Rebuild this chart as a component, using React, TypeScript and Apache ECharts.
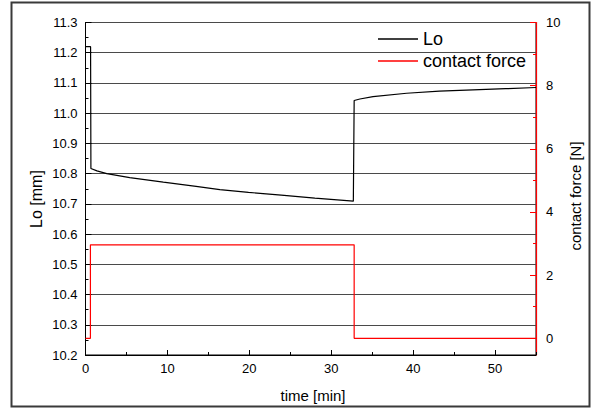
import React, { useEffect, useRef } from "react";
import * as echarts from "echarts";

const loTime = [0, 0.62, 0.66, 1.4, 2.6, 5.4, 9.5, 13.5, 16.4, 19.9, 23.9, 28, 32.7, 32.8, 33.5, 35.1, 39.2, 43.2, 47.3, 51.3, 55];
const loValues = [11.22, 11.22, 10.817, 10.809, 10.8, 10.787, 10.772, 10.758, 10.747, 10.738, 10.729, 10.719, 10.709, 11.042, 11.047, 11.055, 11.066, 11.073, 11.077, 11.081, 11.085];
const forceTime = [0, 0.6, 0.6, 32.8, 32.8, 55];
const forceValues = [0, 0, 2.96, 2.96, 0, 0];

const FONT = "'Liberation Sans', Arial, sans-serif";

export default function App() {
  const ref = useRef<HTMLDivElement>(null);
  useEffect(() => {
    if (!ref.current) return;
    const chart = echarts.init(ref.current, null, { renderer: "svg" });
    const gridLeft = 85.5;
    const gridRight = 61;
    chart.setOption({
      animation: false,
      backgroundColor: "#fff",
      textStyle: { fontFamily: FONT },
      grid: [
        { left: gridLeft, right: gridRight, top: 22.5, bottom: 55, show: true, borderColor: "#000", borderWidth: 1, backgroundColor: "transparent" },
        { left: gridLeft, right: gridRight, top: 22.5, bottom: 71.7, show: false },
      ],
      legend: {
        orient: "vertical",
        left: 378,
        top: 30,
        padding: 0,
        icon: "rect",
        itemWidth: 40,
        itemHeight: 1.3,
        itemGap: 4,
        textStyle: { fontFamily: FONT, fontSize: 18, color: "#000", lineHeight: 18 },
        data: ["Lo", "contact force"],
      },
      xAxis: [
        {
          gridIndex: 0, type: "value", min: 0, max: 55, interval: 10, position: "bottom",
          axisLine: { show: true, onZero: false, lineStyle: { color: "#000", width: 1 } },
          axisTick: { show: true, inside: true, length: 5, lineStyle: { color: "#000" } },
          axisLabel: { show: true, color: "#000", fontSize: 13, margin: 7, fontFamily: FONT, showMaxLabel: false },
          splitLine: { show: false },
        },
        {
          gridIndex: 0, type: "value", min: 0, max: 55, interval: 5, position: "bottom",
          axisLine: { show: false, onZero: false },
          axisTick: { show: true, inside: true, length: 3, lineStyle: { color: "#000" } },
          axisLabel: { show: false },
          splitLine: { show: false },
        },
        { gridIndex: 1, type: "value", min: 0, max: 55, show: false, axisLine: { onZero: false } },
      ],
      yAxis: [
        {
          gridIndex: 0, type: "value", min: 10.2, max: 11.3, interval: 0.1, position: "left",
          axisLine: { show: true, onZero: false, lineStyle: { color: "#000", width: 1 } },
          axisTick: { show: true, inside: true, length: 6, lineStyle: { color: "#000" } },
          minorTick: { show: true, splitNumber: 2, length: 3, lineStyle: { color: "#000" } },
          axisLabel: { color: "#000", fontSize: 13, margin: 8, fontFamily: FONT, formatter: (v: number) => v.toFixed(1) },
          splitLine: { show: true, lineStyle: { color: "#4a4a4a", width: 1 } },
        },
        {
          gridIndex: 0, type: "value", min: 10.2, max: 11.3, position: "right",
          axisLine: { show: true, onZero: false, lineStyle: { color: "#ff0000", width: 1.2 } },
          axisTick: { show: false },
          axisLabel: { show: false },
          splitLine: { show: false },
        },
        {
          gridIndex: 1, type: "value", min: 0, max: 10, interval: 2, position: "right",
          axisLine: { show: false, onZero: false, lineStyle: { color: "#ff0000" } },
          axisTick: { show: true, inside: true, length: 6, lineStyle: { color: "#ff0000" } },
          minorTick: { show: true, splitNumber: 2, length: 3, lineStyle: { color: "#ff0000" } },
          axisLabel: { color: "#000", fontSize: 13, margin: 10, fontFamily: FONT },
          splitLine: { show: false },
        },
      ],
      series: [
        {
          name: "Lo", type: "line", xAxisIndex: 0, yAxisIndex: 0, symbol: "none",
          lineStyle: { color: "#000", width: 1.2 }, itemStyle: { color: "#000" },
          data: loTime.map((t, i) => [t, loValues[i]]),
        },
        {
          name: "contact force", type: "line", xAxisIndex: 2, yAxisIndex: 2, symbol: "none",
          lineStyle: { color: "#ff0000", width: 1.2 }, itemStyle: { color: "#ff0000" },
          data: forceTime.map((t, i) => [t, forceValues[i]]),
        },
      ],
      graphic: [
        { type: "rect", shape: { x: 11.5, y: 2.5, width: 578, height: 404 }, style: { fill: "none", stroke: "#3a3a3a", lineWidth: 2 }, silent: true },
        { type: "text", x: 36, y: 199, rotation: Math.PI / 2, style: { text: "Lo [mm]", fontSize: 16, fontFamily: FONT, fill: "#000", align: "center", verticalAlign: "middle" } },
        { type: "text", x: 575, y: 196, rotation: Math.PI / 2, style: { text: "contact force [N]", fontSize: 15, fontFamily: FONT, fill: "#000", align: "center", verticalAlign: "middle" } },
        { type: "text", x: 313, y: 395, style: { text: "time [min]", fontSize: 15, fontFamily: FONT, fill: "#000", align: "center", verticalAlign: "middle" } },
      ],
    });
    return () => chart.dispose();
  }, []);
  return <div ref={ref} style={{ position: "absolute", left: 0, top: 0, width: 597, height: 410 }} />;
}
